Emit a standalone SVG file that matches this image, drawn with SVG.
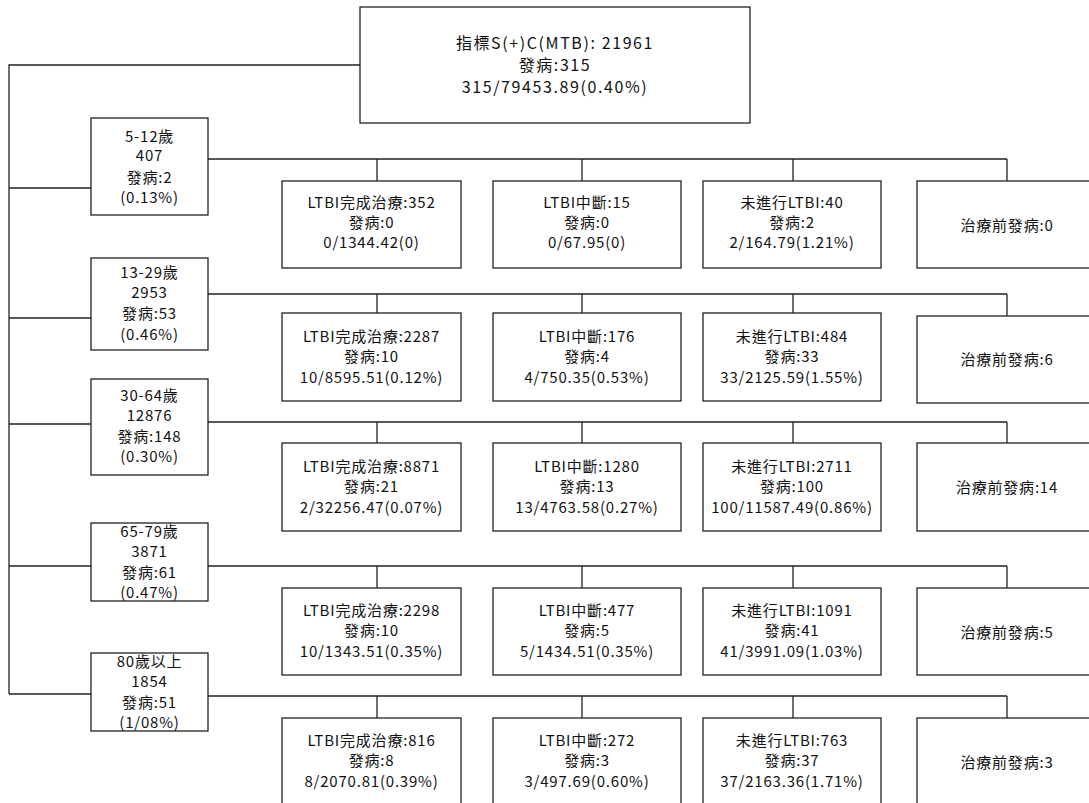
<svg xmlns="http://www.w3.org/2000/svg" width="1089" height="803" viewBox="0 0 1089 803">
<style>
.b{fill:#fff;stroke:#222;stroke-width:1.3}
.c{fill:none;stroke:#222;stroke-width:1.3}
text{font-family:"Noto Sans CJK TC","Noto Sans",sans-serif;font-size:15px;letter-spacing:0.8px;fill:#111;text-anchor:middle}
.t{font-size:16px;letter-spacing:1.6px}
</style>
<rect width="1089" height="803" fill="#fff"/>
<g id="connectors">
<path class="c" d="M360 65H9V694M9 188H91M9 318H91M9 424H91M9 566H91M9 694H91"/>
<path class="c" d="M208 159H1007M377 159V181M582 159V181M793 159V181M1007 159V181"/>
<path class="c" d="M208 294H1007M377 294V313M582 294V313M793 294V313M1007 294V316"/>
<path class="c" d="M208 422H1007M377 422V443M582 422V443M793 422V443M1007 422V443"/>
<path class="c" d="M208 566H1007M377 566V588M582 566V588M793 566V588M1007 566V588"/>
<path class="c" d="M208 696H1007M377 696V718M582 696V718M793 696V718M1007 696V718"/>
</g>
<g id="root"><rect class="b" x="360" y="7" width="390" height="116"/>
<text class="t" x="555" y="49">指標S(+)C(MTB): 21961</text><text class="t" x="555" y="71">發病:315</text><text class="t" x="555" y="93">315/79453.89(0.40%)</text></g>

<g id="age1"><rect class="b" x="91" y="118" width="117" height="97"/>
<text x="149.5" y="142">5-12歲</text><text x="149.5" y="161">407</text><text x="149.5" y="183">發病:2</text><text x="149.5" y="203">(0.13%)</text></g>
<g id="age2"><rect class="b" x="91" y="258" width="117" height="92"/>
<text x="149.5" y="278">13-29歲</text><text x="149.5" y="298">2953</text><text x="149.5" y="319">發病:53</text><text x="149.5" y="340">(0.46%)</text></g>
<g id="age3"><rect class="b" x="91" y="379" width="117" height="96"/>
<text x="149.5" y="401">30-64歲</text><text x="149.5" y="421">12876</text><text x="149.5" y="442">發病:148</text><text x="149.5" y="462">(0.30%)</text></g>
<g id="age4"><rect class="b" x="91" y="523" width="117" height="78"/>
<text x="149.5" y="537">65-79歲</text><text x="149.5" y="557">3871</text><text x="149.5" y="578">發病:61</text><text x="149.5" y="598">(0.47%)</text></g>
<g id="age5"><rect class="b" x="91" y="653" width="117" height="78"/>
<text x="149.5" y="667">80歲以上</text><text x="149.5" y="687">1854</text><text x="149.5" y="708">發病:51</text><text x="149.5" y="728">(1/08%)</text></g>

<g id="r1c1"><rect class="b" x="282" y="181" width="179" height="87"/><text x="371.5" y="208">LTBI完成治療:352</text><text x="371.5" y="228">發病:0</text><text x="371.5" y="248">0/1344.42(0)</text></g>
<g id="r1c2"><rect class="b" x="493" y="181" width="188" height="87"/><text x="587" y="208">LTBI中斷:15</text><text x="587" y="228">發病:0</text><text x="587" y="248">0/67.95(0)</text></g>
<g id="r1c3"><rect class="b" x="703" y="181" width="178" height="87"/><text x="792" y="208">未進行LTBI:40</text><text x="792" y="228">發病:2</text><text x="792" y="248">2/164.79(1.21%)</text></g>
<g id="r1c4"><rect class="b" x="917" y="181" width="180" height="87"/><text x="1007" y="231">治療前發病:0</text></g>

<g id="r2c1"><rect class="b" x="282" y="313" width="179" height="88"/><text x="371.5" y="342">LTBI完成治療:2287</text><text x="371.5" y="362">發病:10</text><text x="371.5" y="383">10/8595.51(0.12%)</text></g>
<g id="r2c2"><rect class="b" x="493" y="313" width="188" height="88"/><text x="587" y="342">LTBI中斷:176</text><text x="587" y="362">發病:4</text><text x="587" y="383">4/750.35(0.53%)</text></g>
<g id="r2c3"><rect class="b" x="703" y="313" width="178" height="88"/><text x="792" y="342">未進行LTBI:484</text><text x="792" y="362">發病:33</text><text x="792" y="383">33/2125.59(1.55%)</text></g>
<g id="r2c4"><rect class="b" x="917" y="316" width="180" height="87"/><text x="1007" y="365">治療前發病:6</text></g>

<g id="r3c1"><rect class="b" x="282" y="443" width="179" height="88"/><text x="371.5" y="472">LTBI完成治療:8871</text><text x="371.5" y="492">發病:21</text><text x="371.5" y="513">2/32256.47(0.07%)</text></g>
<g id="r3c2"><rect class="b" x="493" y="443" width="188" height="88"/><text x="587" y="472">LTBI中斷:1280</text><text x="587" y="492">發病:13</text><text x="587" y="513">13/4763.58(0.27%)</text></g>
<g id="r3c3"><rect class="b" x="703" y="443" width="178" height="88"/><text x="792" y="472">未進行LTBI:2711</text><text x="792" y="492">發病:100</text><text x="792" y="513">100/11587.49(0.86%)</text></g>
<g id="r3c4"><rect class="b" x="917" y="443" width="180" height="88"/><text x="1007" y="493">治療前發病:14</text></g>

<g id="r4c1"><rect class="b" x="282" y="588" width="179" height="87"/><text x="371.5" y="616">LTBI完成治療:2298</text><text x="371.5" y="636">發病:10</text><text x="371.5" y="657">10/1343.51(0.35%)</text></g>
<g id="r4c2"><rect class="b" x="493" y="588" width="188" height="87"/><text x="587" y="616">LTBI中斷:477</text><text x="587" y="636">發病:5</text><text x="587" y="657">5/1434.51(0.35%)</text></g>
<g id="r4c3"><rect class="b" x="703" y="588" width="178" height="87"/><text x="792" y="616">未進行LTBI:1091</text><text x="792" y="636">發病:41</text><text x="792" y="657">41/3991.09(1.03%)</text></g>
<g id="r4c4"><rect class="b" x="917" y="588" width="180" height="87"/><text x="1007" y="638">治療前發病:5</text></g>

<g id="r5c1"><rect class="b" x="282" y="718" width="179" height="90"/><text x="371.5" y="746">LTBI完成治療:816</text><text x="371.5" y="766">發病:8</text><text x="371.5" y="787">8/2070.81(0.39%)</text></g>
<g id="r5c2"><rect class="b" x="493" y="718" width="188" height="90"/><text x="587" y="746">LTBI中斷:272</text><text x="587" y="766">發病:3</text><text x="587" y="787">3/497.69(0.60%)</text></g>
<g id="r5c3"><rect class="b" x="703" y="718" width="178" height="90"/><text x="792" y="746">未進行LTBI:763</text><text x="792" y="766">發病:37</text><text x="792" y="787">37/2163.36(1.71%)</text></g>
<g id="r5c4"><rect class="b" x="917" y="718" width="180" height="90"/><text x="1007" y="768">治療前發病:3</text></g>
</svg>
